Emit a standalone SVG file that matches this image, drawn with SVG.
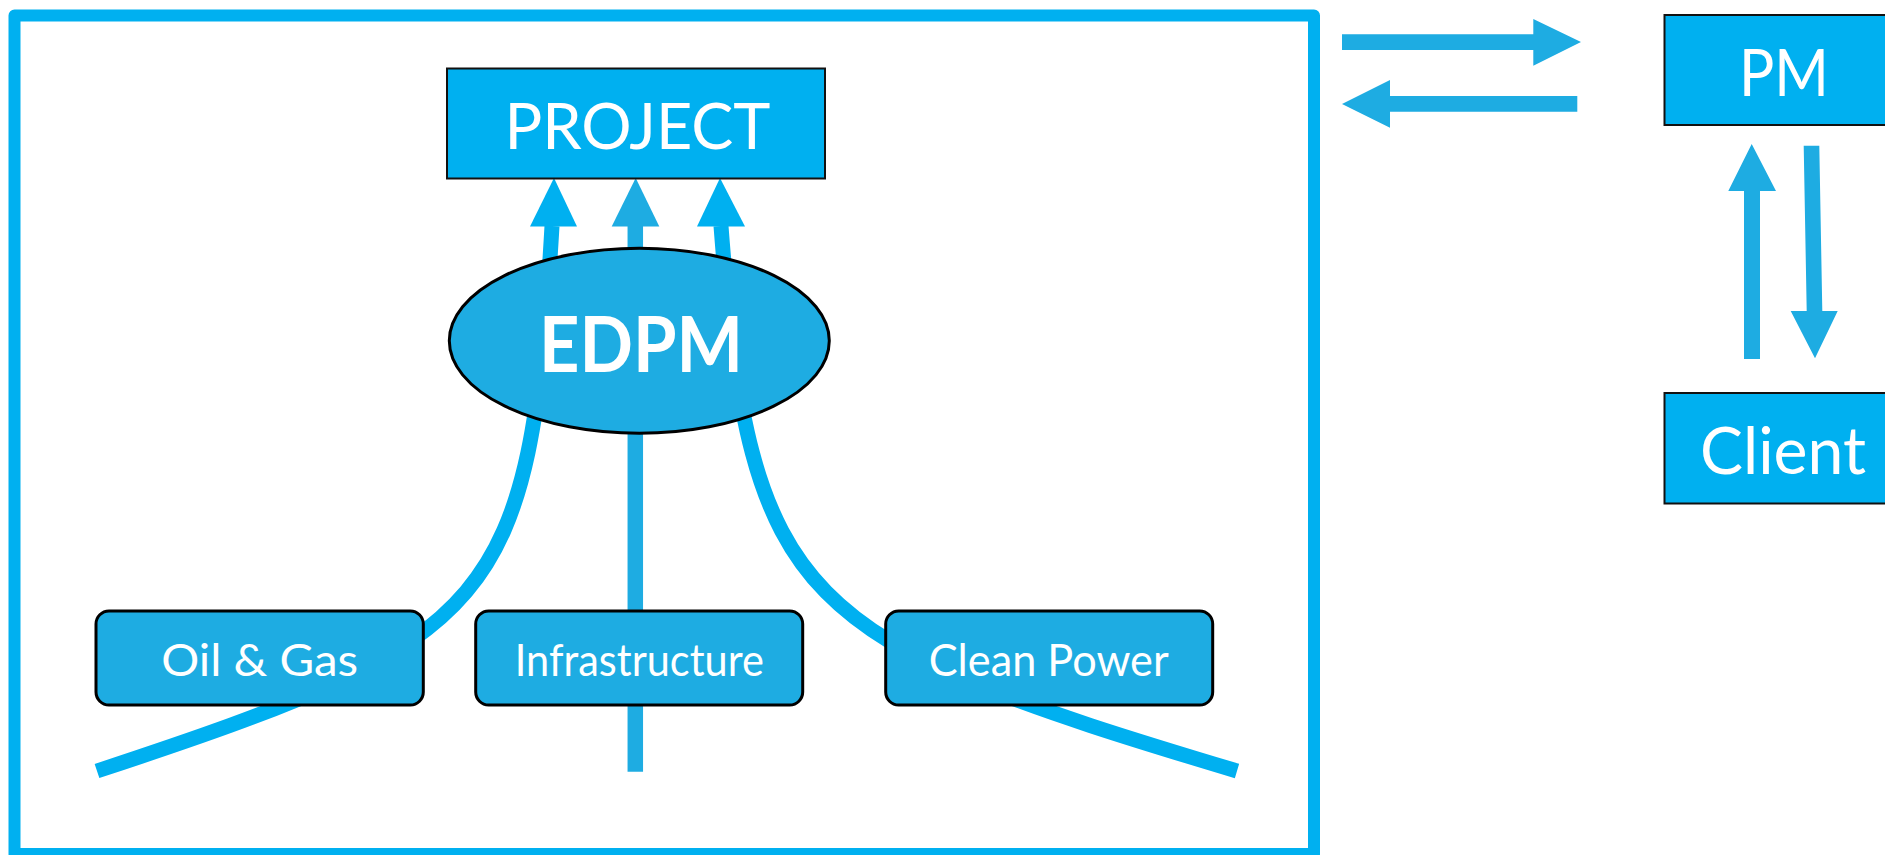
<svg xmlns="http://www.w3.org/2000/svg" width="1885" height="855" viewBox="0 0 1885 855">
  <style>
    .frame { fill: none; stroke: #00B0F0; stroke-width: 12; stroke-linejoin: round; }
    .curve { fill: none; stroke: #00B0F0; stroke-width: 15; }
    .stem { fill: none; stroke: #1EACE2; stroke-width: 15.5; }
    .head-a { fill: #00B0F0; }
    .head-b { fill: #1EACE2; }
    .box-a { fill: #00B0F0; stroke: #111; stroke-width: 2; }
    .box-b { fill: #1EACE2; stroke: #000; stroke-width: 3; }
    .lbl { fill: #fff; font-family: Lato, "Open Sans", "DejaVu Sans", sans-serif; text-anchor: middle; }
  </style>

  <!-- outer boundary -->
  <rect class="frame" x="14.5" y="15.5" width="1299.5" height="838.5"/>

  <!-- connectors -->
  <g id="connectors">
    <!-- sector curves feeding the project -->
    <path class="curve" d="M97,771 C497,639 530,606 552,226"/>
    <path class="curve" d="M1237,771 C800,640 750,606 721,226"/>
    <line class="stem" x1="635.3" y1="771.7" x2="635.3" y2="224"/>
    <polygon class="head-a" points="554,178 530,226.5 577,226.5"/>
    <polygon class="head-b" points="635.7,178 611.7,226.5 659.3,226.5"/>
    <polygon class="head-a" points="720,178 697,226.5 745,226.5"/>

    <!-- exchange with PM -->
    <polygon class="head-b" points="1342,34.3 1533.3,34.3 1533.3,19 1581,42 1533.3,65.7 1533.3,50 1342,50"/>
    <polygon class="head-b" points="1342,104 1390,80 1390,96 1577.3,96 1577.3,111.7 1390,111.7 1390,127.7"/>

    <!-- PM / Client -->
    <polygon class="head-b" points="1751.7,144 1776,191 1760,191 1760,359 1744,359 1744,191 1728.3,191"/>
    <polygon class="head-b" points="1803.7,145.7 1819.3,145.7 1822.3,311 1837.7,311 1815,358.3 1790.7,311 1806.7,311"/>
  </g>

  <g id="project">
    <rect class="box-a" x="447" y="68.5" width="378" height="110"/>
    <text class="lbl" x="637.5" y="149" font-size="64" textLength="266" lengthAdjust="spacingAndGlyphs">PROJECT</text>
  </g>

  <g id="edpm">
    <ellipse cx="639.3" cy="340.8" rx="190" ry="92.5" fill="#1EACE2" stroke="#000" stroke-width="3"/>
    <text class="lbl" x="641" y="371.7" font-size="76" font-weight="bold" textLength="204" lengthAdjust="spacingAndGlyphs">EDPM</text>
  </g>

  <g id="oil-gas">
    <rect class="box-b" x="96" y="611" width="327.3" height="94" rx="13"/>
    <text class="lbl" x="259.7" y="676" font-size="43.5" textLength="197" lengthAdjust="spacingAndGlyphs">Oil &amp; Gas</text>
  </g>

  <g id="infrastructure">
    <rect class="box-b" x="475.7" y="611" width="327" height="94" rx="13"/>
    <text class="lbl" x="639.3" y="676" font-size="43.5" textLength="249" lengthAdjust="spacingAndGlyphs">Infrastructure</text>
  </g>

  <g id="clean-power">
    <rect class="box-b" x="885.7" y="611" width="327" height="94" rx="13"/>
    <text class="lbl" x="1048.7" y="676" font-size="43.5" textLength="240" lengthAdjust="spacingAndGlyphs">Clean Power</text>
  </g>

  <g id="pm">
    <rect class="box-a" x="1664.5" y="15" width="300" height="110"/>
    <text class="lbl" x="1784" y="95.7" font-size="66" textLength="90" lengthAdjust="spacingAndGlyphs">PM</text>
  </g>

  <g id="client">
    <rect class="box-a" x="1664.5" y="393" width="300" height="110.5"/>
    <text class="lbl" x="1783" y="474.3" font-size="66" textLength="166" lengthAdjust="spacingAndGlyphs">Client</text>
  </g>
</svg>
